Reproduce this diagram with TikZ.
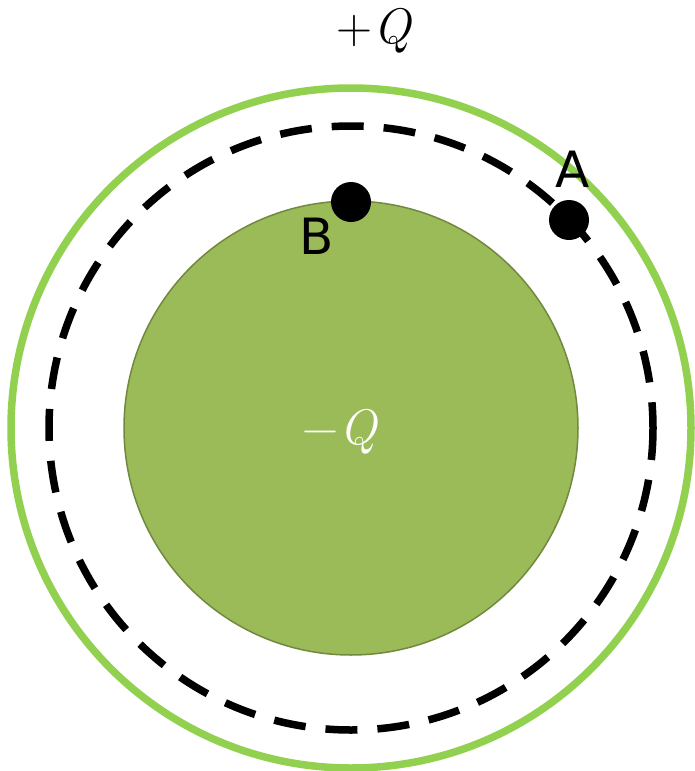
\documentclass[tikz,border=0pt]{standalone}
\usepackage{fontspec}
\newfontfamily\labelfont{DejaVu Sans}
\definecolor{outergreen}{HTML}{92D050}
\definecolor{innerfill}{HTML}{9BBB59}
\definecolor{innerdraw}{HTML}{71893F}
\begin{document}
\begin{tikzpicture}[x=1pt,y=-1pt,
  ptlabel/.style={font=\labelfont\fontsize{50}{50}\selectfont, inner sep=0pt},
  qlabel/.style={font=\fontsize{50}{50}\selectfont, inner sep=0pt},
  dot/.style={circle, fill=black, minimum size=40pt, inner sep=0pt}]
\useasboundingbox (0,0) rectangle (695,771);
\coordinate (c) at (351,428);
\draw[outergreen, line width=7.5pt] (c) circle[radius=340];
\draw[black, line width=7.5pt, dash pattern=on 32pt off 20pt] (c) circle[radius=302];
\draw[innerdraw, fill=innerfill, line width=1.5pt] (c) circle[radius=227];
\node[dot] (B) at (351,202) {};
\node[dot] (A) at (569,220) {};
\node[ptlabel] (la) at (573,169) {A};
\node[ptlabel] (lb) at (317,236) {B};
\node[qlabel] (pq) at (374,31) {+\kern1pt\textit{Q}};
\node[qlabel, text=white] (mq) at (340,432) {−\kern1pt\textit{Q}};
\end{tikzpicture}
\end{document}
